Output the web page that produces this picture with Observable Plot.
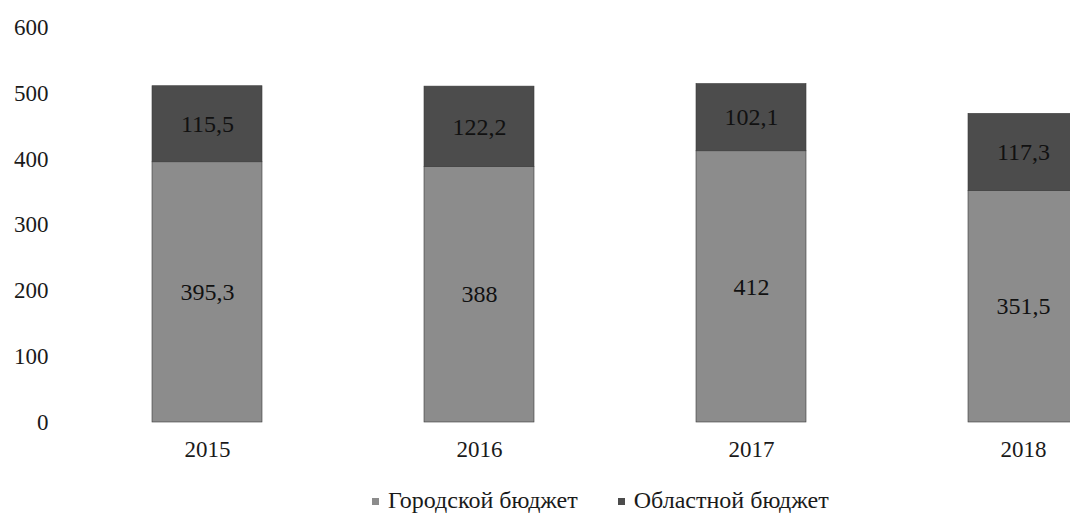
<!DOCTYPE html>
<html>
<head>
<meta charset="utf-8">
<script src="https://cdn.jsdelivr.net/npm/d3@7"></script>
<script src="https://cdn.jsdelivr.net/npm/@observablehq/plot@0.6"></script>
<style>
  html, body { margin: 0; padding: 0; background: #fff; overflow: hidden; }
  #chart svg { overflow: hidden; display: block; }
  .legend { position: absolute; top: 487px; left: 372px; white-space: nowrap;
    font-family: Liberation Serif, Times New Roman, serif; font-size: 24px; line-height: 26px; color: #1a1a1a; }
  .legend span.item { display: inline-block; }
  .legend span.item + span.item { margin-left: 40px; }
  .legend span.sw { display: inline-block; width: 7px; height: 7px; margin-right: 9px; vertical-align: 3px; }
</style>
</head>
<body>
<div id="chart"></div>
<div class="legend" id="legend"></div>
<script>
const years = ["2015", "2016", "2017", "2018"];
const cityBudget = [395.3, 388, 412, 351.5];
const regionalBudget = [115.5, 122.2, 102.1, 117.3];
const seriesNames = ["Городской бюджет", "Областной бюджет"];
const seriesColors = ["#8c8c8c", "#4c4c4c"];
const yTicks = [0, 100, 200, 300, 400, 500, 600];

const rows = [];
years.forEach((y, i) => {
  rows.push({year: y, series: seriesNames[0], value: cityBudget[i]});
  rows.push({year: y, series: seriesNames[1], value: regionalBudget[i]});
});
const fmt = v => String(v).replace(".", ",");
const FONT = "Liberation Serif, Times New Roman, serif";

const chart = Plot.plot({
  width: 1070,
  height: 470,
  marginTop: 27,
  marginBottom: 48,
  marginLeft: 70,
  marginRight: 0,
  style: "font-family: Liberation Serif, Times New Roman, serif; font-size: 23px; color: #1a1a1a; background: #fff;",
  x: {domain: years, range: [70.4, 1159.6], paddingInner: 0.5956, paddingOuter: 0.3, label: null},
  y: {domain: [0, 600], ticks: yTicks, label: null},
  color: {domain: seriesNames, range: seriesColors},
  marks: [
    Plot.barY(rows, {x: "year", y: "value", fill: "series", stroke: "#3a3a3a", strokeWidth: 0.6, order: seriesNames}),
    Plot.text(rows, Plot.stackY({x: "year", y: "value", z: "series", order: seriesNames, text: d => fmt(d.value), fill: "#111", fontSize: 24, fontFamily: FONT})),
    Plot.axisY({ticks: yTicks, tickSize: 0, tickPadding: 22, label: null, fontSize: 23, fontFamily: FONT}),
    Plot.axisX({tickSize: 0, tickPadding: 18, label: null, fontSize: 23, fontFamily: FONT})
  ]
});
chart.setAttribute("font-family", FONT);
document.getElementById("chart").appendChild(chart);

const legend = document.getElementById("legend");
seriesNames.forEach((name, i) => {
  const item = document.createElement("span");
  item.className = "item";
  const sw = document.createElement("span");
  sw.className = "sw";
  sw.style.background = seriesColors[i];
  item.appendChild(sw);
  item.appendChild(document.createTextNode(name));
  legend.appendChild(item);
});
</script>
</body>
</html>
